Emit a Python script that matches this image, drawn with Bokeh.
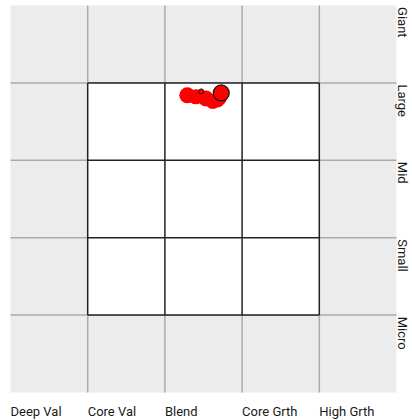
import math
from bokeh.plotting import figure
from bokeh.models import Range1d
from bokeh.core.properties import value
from bokeh.embed import file_html
from bokeh.resources import INLINE

# ---- data ----
styles = ["Deep Val", "Core Val", "Blend", "Core Grth", "High Grth"]
caps = ["Micro", "Small", "Mid", "Large", "Giant"]  # bottom to top

hist_x = [2.29, 2.40, 2.53, 2.62, 2.68, 2.71]
hist_y = [3.84, 3.82, 3.80, 3.76, 3.78, 3.80]
hist_size = [16, 15, 16, 15, 15, 14]

prev_x = [2.47]
prev_y = [3.89]
prev_size = [5]

cur_x = [2.73]
cur_y = [3.87]
cur_size = [16]

# ---- layout ----
W, H = 412, 420
SX, SY = 77.2, 77.4
x0_off, y0_off = 10, 392

p = figure(width=W, height=H, output_backend="svg", toolbar_location=None,
           x_range=Range1d(-x0_off / SX, (W - x0_off) / SX),
           y_range=Range1d(-(H - y0_off) / SY, y0_off / SY),
           min_border=0, min_border_left=0, min_border_right=0,
           min_border_top=0, min_border_bottom=0)
p.axis.visible = False
p.grid.visible = False
p.outline_line_color = None
p.background_fill_color = "white"
p.border_fill_color = "white"

n = len(styles)
m = len(caps)

# gray background
p.quad(left=[0], right=[n], bottom=[0], top=[m], fill_color="#ececec", line_color=None)

# gray grid lines
gx0 = [i for i in range(1, n)] + [0 for j in range(1, m)]
gx1 = [i for i in range(1, n)] + [n for j in range(1, m)]
gy0 = [0 for i in range(1, n)] + [j for j in range(1, m)]
gy1 = [m for i in range(1, n)] + [j for j in range(1, m)]
p.segment(x0=gx0, y0=gy0, x1=gx1, y1=gy1, line_color="#ababab", line_width=1.5)

# inner white 3x3
p.quad(left=[1], right=[n - 1], bottom=[1], top=[m - 1], fill_color="white", line_color=None)

bx0 = [i for i in range(1, n)] + [1 for j in range(1, m)]
bx1 = [i for i in range(1, n)] + [n - 1 for j in range(1, m)]
by0 = [1 for i in range(1, n)] + [j for j in range(1, m)]
by1 = [m - 1 for i in range(1, n)] + [j for j in range(1, m)]
p.segment(x0=bx0, y0=by0, x1=bx1, y1=by1, line_color="#222222", line_width=1.5)

# bubbles
p.scatter(x=hist_x, y=hist_y, size=hist_size, fill_color="red", line_color=None)
p.scatter(x=prev_x, y=prev_y, size=prev_size, fill_color="red", line_color="#111111", line_width=1)
p.scatter(x=cur_x, y=cur_y, size=cur_size, fill_color="red", line_color="#111111", line_width=1.2)

# bottom labels
p.text(x=list(range(n)), y=[-(411 - y0_off) / SY] * n, text=styles,
       text_font=value("Roboto"), text_font_size="13px", text_color="#1a1a1a",
       text_align="left", text_baseline="alphabetic")

# right labels (rotated)
p.text(x=[(402 - x0_off) / SX] * m, y=[j + 1 - 0.02 for j in range(m)], text=caps,
       angle=-math.pi / 2,
       text_font=value("Roboto"), text_font_size="13px", text_color="#1a1a1a",
       text_align="left", text_baseline="alphabetic")

open("out.html", "w").write(file_html(p, INLINE))
